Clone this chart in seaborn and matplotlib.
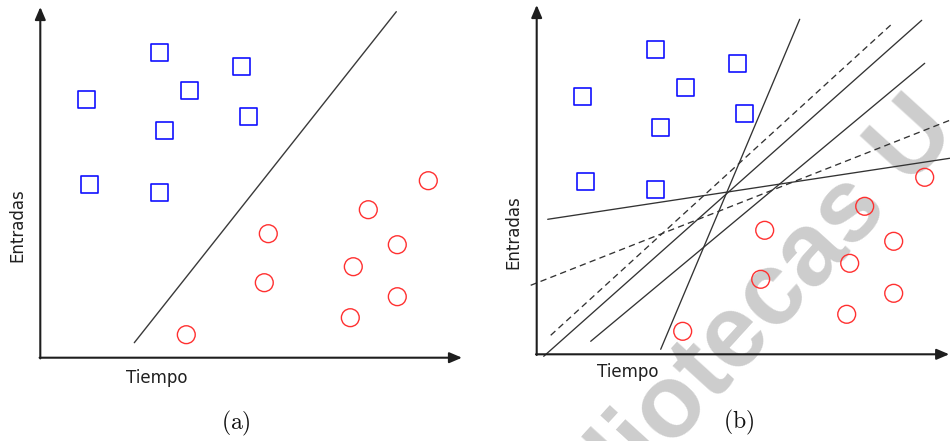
import matplotlib
matplotlib.use("Agg")
import matplotlib.pyplot as plt
import seaborn as sns

# Class samples (shared by both panels), in axis units
square_x = [119, 201, 149, 46, 208, 124, 49, 119]
square_y = [305, 291, 267, 258, 241, 227, 173, 165]
circle_x = [388, 328, 228, 357, 313, 224, 357, 310, 146]
circle_y = [177, 148, 124, 113, 91, 75, 61, 40, 23]

# Panel (a): single separating line
line_a_x = [94, 356]
line_a_y = [15, 346]

# Panel (b): several candidate separating lines
lines_b_x = [[11, 413], [124, 263], [7, 385], [54, 388], [14, 357], [-6, 413]]
lines_b_y = [[135, 196], [5, 335], [-2, 334], [13, 291], [19, 332], [69, 234]]
lines_b_dashed = [False, False, False, False, True, True]

x_label = "Tiempo"
y_label = "Entradas"
captions = ["(a)", "(b)"]
watermark = "Bibliotecas U"

W, H = 950, 441
sns.set_style("white")
plt.rcParams["font.family"] = ["DejaVu Sans"]

fig = plt.figure(figsize=(W / 100, H / 100), dpi=100)


def make_axes(ox, oy, xlim, ylim):
    rect = [(ox + xlim[0]) / W, (H - oy + ylim[0]) / H,
            (xlim[1] - xlim[0]) / W, (ylim[1] - ylim[0]) / H]
    ax = fig.add_axes(rect)
    ax.set_xlim(*xlim)
    ax.set_ylim(*ylim)
    ax.axis("off")
    ax.set_facecolor("none")
    return ax


def draw_points(ax):
    sns.scatterplot(x=square_x, y=square_y, marker="s", s=155, color="none",
                    edgecolor="#1010ff", linewidth=1.2, ax=ax, zorder=4)
    sns.scatterplot(x=circle_x, y=circle_y, marker="o", s=165, color="none",
                    edgecolor="#ff3030", linewidth=1.0, ax=ax, zorder=4)
    for coll in ax.collections:
        coll.set_facecolor("none")


def draw_axes_arrows(ax, xend, yend):
    style = dict(arrowstyle="-|>,head_length=0.75,head_width=0.32",
                 lw=1.5, color="#1e1e1e", shrinkA=0, shrinkB=0)
    ax.annotate("", xy=(xend, 0), xytext=(-0.7, 0), arrowprops=style, zorder=5)
    ax.annotate("", xy=(0, yend), xytext=(0, -0.7), arrowprops=style, zorder=5)


label_kw = dict(fontsize=12, color="#202020", ha="center", va="center")
cap_kw = dict(fontsize=17, color="#111111", ha="center", va="center",
              math_fontfamily="cm")

# ---- panel (a)
ax_a = make_axes(40.3, 357.7, (-35, 425), (-10, 356))
draw_axes_arrows(ax_a, 421.7, 350.7)
sns.lineplot(x=line_a_x, y=line_a_y, color="#3a3a3a", linewidth=1.0,
             estimator=None, ax=ax_a, zorder=3)
draw_points(ax_a)
ax_a.text(116.7, -20.5, x_label, **label_kw)
ax_a.text(-22.5, 132.5, y_label, rotation=90, **label_kw)
ax_a.text(195.7, -65.5, r"$\mathrm{%s}$" % captions[0], **cap_kw)

# ---- panel (b)
ax_b = make_axes(536.7, 354.3, (-10, 414), (-10, 352))
draw_axes_arrows(ax_b, 412.5, 349.3)
for xs, ys, dashed in zip(lines_b_x, lines_b_y, lines_b_dashed):
    ls = (0, (4.8, 3.2)) if dashed else "-"
    sns.lineplot(x=xs, y=ys, color="#333333", linewidth=0.95, linestyle=ls,
                 estimator=None, sort=False, ax=ax_b, zorder=3)
draw_points(ax_b)
ax_b.text(91.3, -17.7, x_label, **label_kw)
ax_b.text(-23.4, 122.6, y_label, rotation=90, **label_kw)
ax_b.text(201.6, -68.4, r"$\mathrm{%s}$" % captions[1], **cap_kw)

# Library watermark behind everything
fig.text(521.7 / W, -173.3 / H, watermark, rotation=47.7,
         rotation_mode="anchor", ha="left", va="baseline",
         fontsize=74, fontweight="bold", family="Liberation Sans",
         color="#cdcdcd", zorder=-1)

fig.savefig("out.png", dpi=100, facecolor="white")
